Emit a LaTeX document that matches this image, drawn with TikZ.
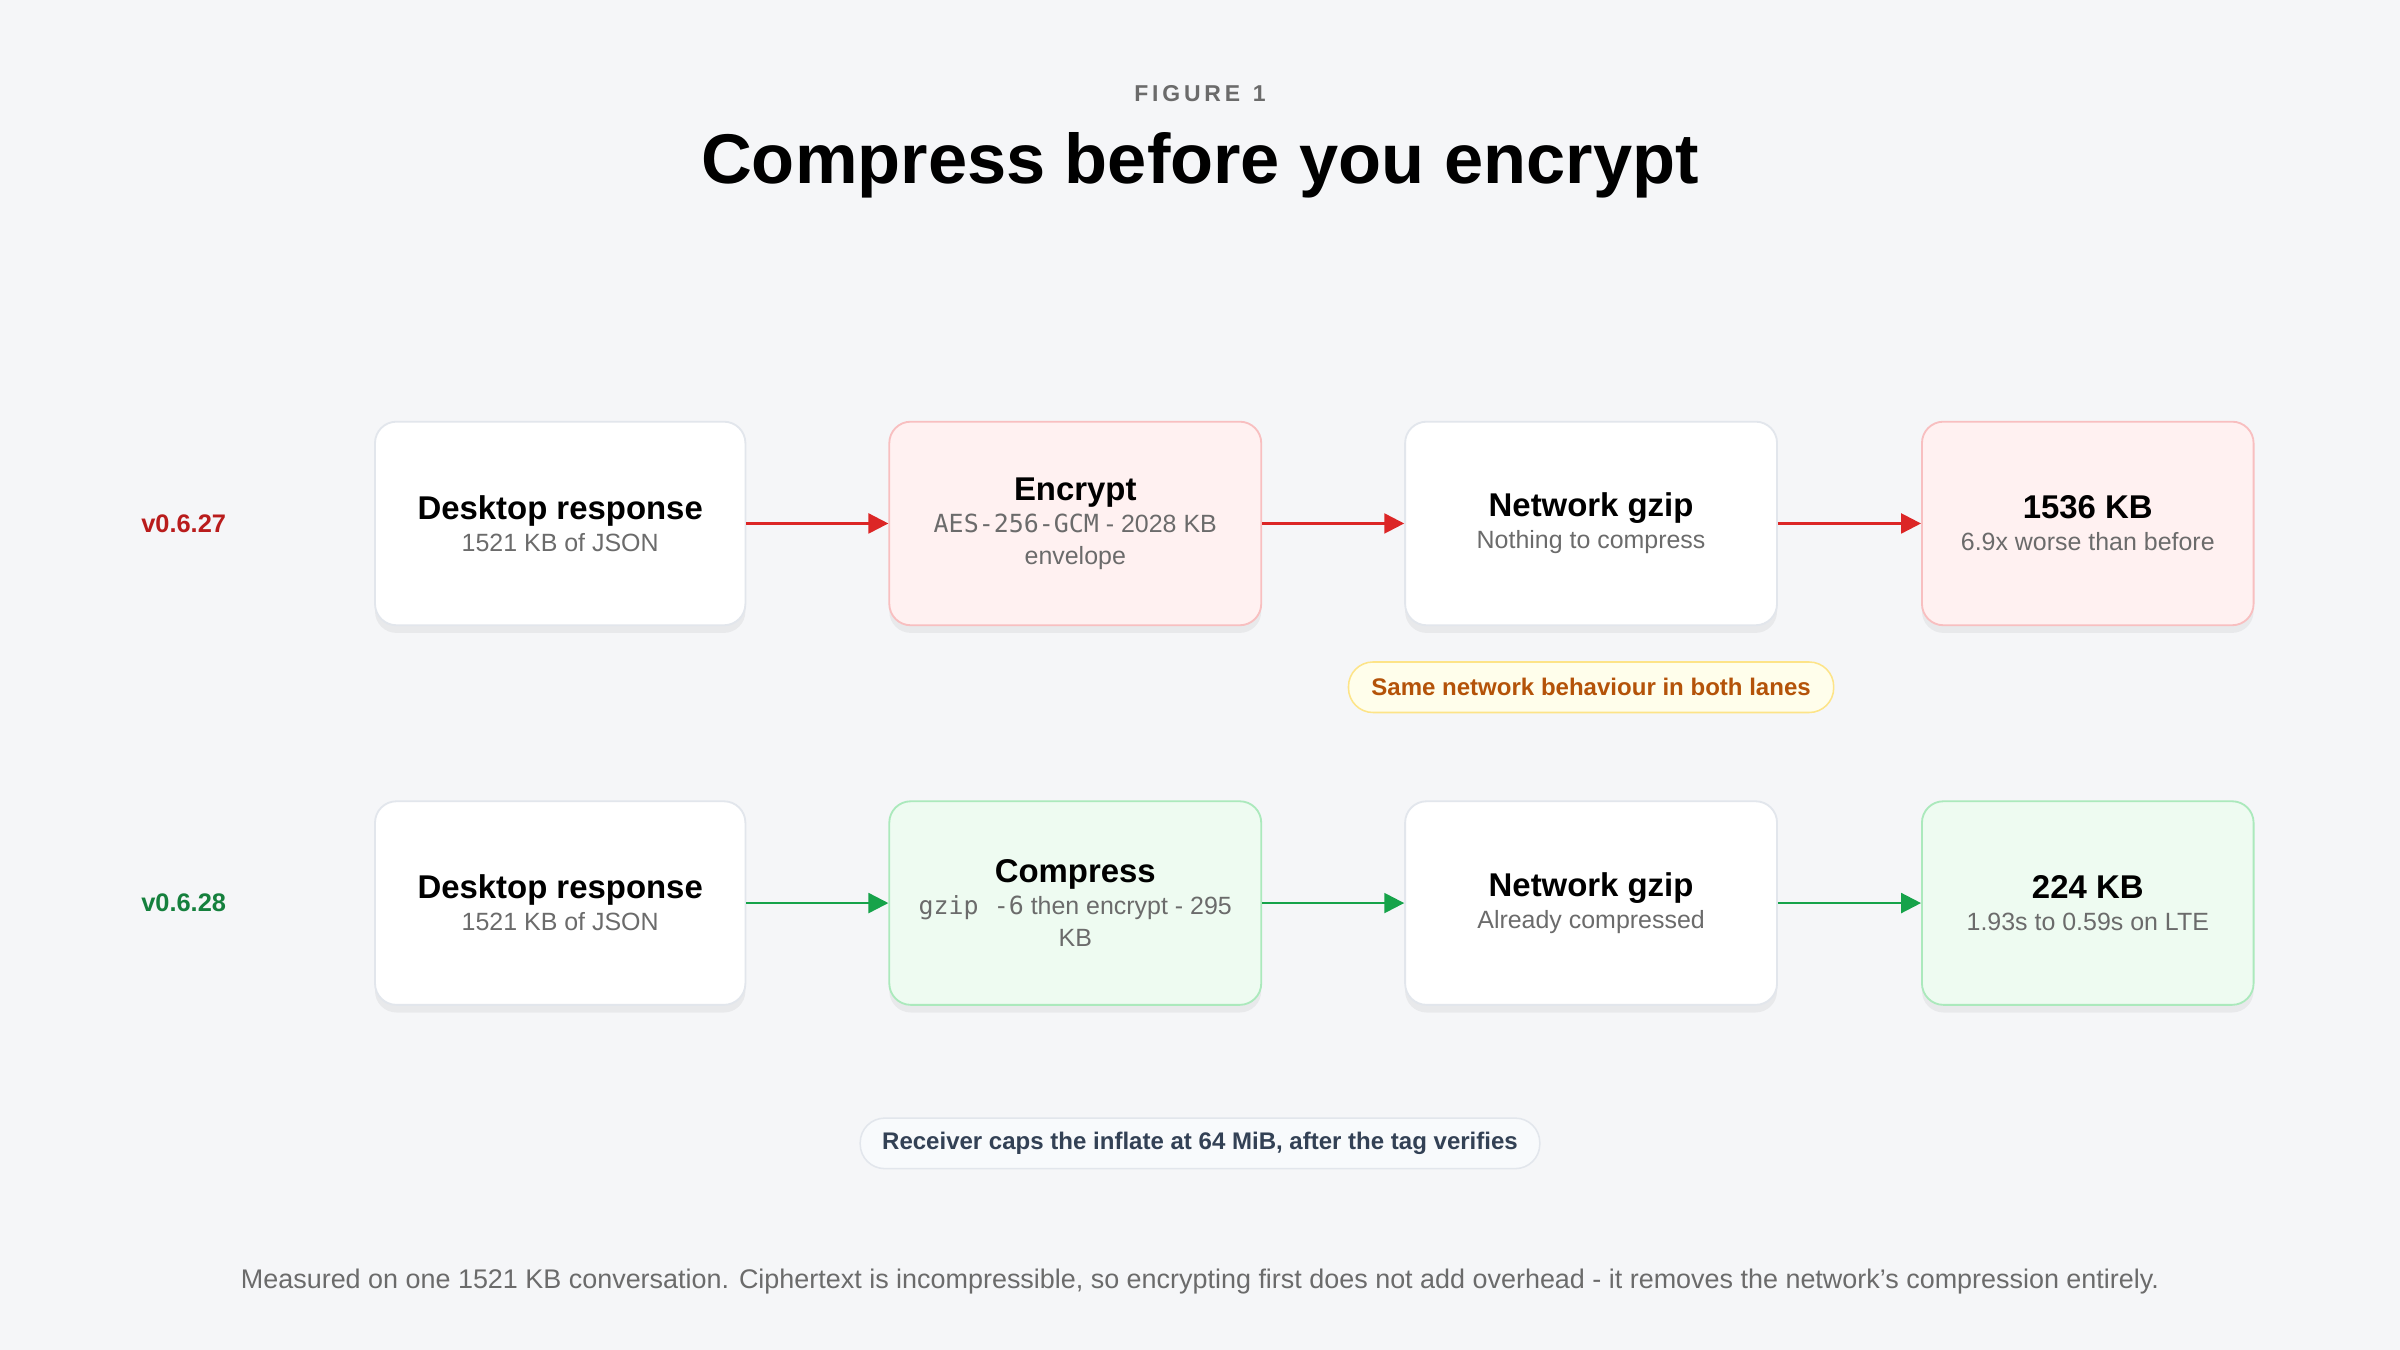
\documentclass[tikz,border=0pt]{standalone}
\usepackage{fontspec}
\setmainfont{Liberation Sans}
\setmonofont{DejaVu Sans Mono}
\usetikzlibrary{arrows.meta}
\definecolor{bg}{HTML}{F5F6F8}
\definecolor{rfill}{HTML}{FFF1F1}
\definecolor{rline}{HTML}{F8BFC0}
\definecolor{gfill}{HTML}{EEFBF1}
\definecolor{gline}{HTML}{ABE9BC}
\definecolor{wline}{HTML}{E2E6EC}
\definecolor{rarr}{HTML}{DC2626}
\definecolor{garr}{HTML}{16A34A}
\definecolor{rtxt}{HTML}{B91C1C}
\definecolor{gtxt}{HTML}{15803D}
\definecolor{sub}{HTML}{6B6B6B}
\newcommand\bxc[3]{\parbox{#1}{\centering{\fontsize{21.5}{30}\selectfont\bfseries #2\par}{\fontsize{16.3}{21}\selectfont\color{sub}#3\par}}}
\begin{document}
\begin{tikzpicture}[x=1pt,y=-1pt,
 box/.style={rounded corners=14pt,line width=1.2pt,minimum height=133pt,align=center,
   preaction={fill=black,fill opacity=0.05,draw=none,transform canvas={yshift=-5pt}}},
 wbox/.style={box,fill=white,draw=wline},
 rbox/.style={box,fill=rfill,draw=rline},
 gbox/.style={box,fill=gfill,draw=gline},
 ra/.style={draw=rarr,line width=1.6pt,-{Triangle[length=13pt,width=13pt]}},
 ga/.style={draw=garr,line width=1.6pt,-{Triangle[length=13pt,width=13pt]}}]
\fill[bg] (0,0) rectangle (1568,882);
\useasboundingbox (0,0) rectangle (1568,882);
\node (fig) at (784,61) {\fontsize{15}{18}\selectfont\bfseries\color{sub}F\,I\,G\,U\,R\,E\ \ 1};
\node (title) at (784,108) {\fontsize{46}{54}\selectfont\bfseries Compress before you encrypt};
\node[text=rtxt,font=\fontsize{16.6}{20}\selectfont\bfseries] (l1) at (120,342) {v0.6.27};
\node[text=gtxt,font=\fontsize{16.6}{20}\selectfont\bfseries] (l2) at (120,590) {v0.6.28};
% row 1
\node[wbox,minimum width=242pt] (a1) at (366,342) {\bxc{230pt}{Desktop response}{1521 KB of JSON}};
\node[rbox,minimum width=243pt] (b1) at (702.5,342) {\bxc{210pt}{Encrypt}{\texttt{AES-256-GCM} - 2028 KB envelope}};
\node[wbox,minimum width=243pt] (c1) at (1039.5,342) {\bxc{230pt}{Network gzip}{Nothing to compress}};
\node[rbox,minimum width=216pt] (d1) at (1364,342) {\bxc{210pt}{1536 KB}{6.9x worse than before}};
\draw[ra] (a1) -- (b1); \draw[ra] (b1) -- (c1); \draw[ra] (c1) -- (d1);
% row 2
\node[wbox,minimum width=242pt] (a2) at (366,590) {\bxc{230pt}{Desktop response}{1521 KB of JSON}};
\node[gbox,minimum width=243pt] (b2) at (702.5,590) {\bxc{210pt}{Compress}{\texttt{gzip -6} then encrypt - 295 KB}};
\node[wbox,minimum width=243pt] (c2) at (1039.5,590) {\bxc{230pt}{Network gzip}{Already compressed}};
\node[gbox,minimum width=216pt] (d2) at (1364,590) {\bxc{210pt}{224 KB}{1.93s to 0.59s on LTE}};
\draw[ga] (a2) -- (b2); \draw[ga] (b2) -- (c2); \draw[ga] (c2) -- (d2);
% badges
\node[rounded corners=16pt,fill=yellow!8,draw=yellow!60!orange!45,line width=1pt,minimum width=317pt,minimum height=33pt,text={rgb,255:red,180;green,83;blue,9},font=\fontsize{15.7}{18}\selectfont\bfseries] (n1) at (1039.5,449) {Same network behaviour in both lanes};
\node[rounded corners=16pt,fill={rgb,255:red,248;green,250;blue,252},draw=wline,line width=1pt,minimum width=444pt,minimum height=33pt,text={rgb,255:red,51;green,65;blue,85},font=\fontsize{15.7}{18}\selectfont\bfseries] (n2) at (784,747) {Receiver caps the inflate at 64 MiB, after the tag verifies};
\node[text=sub,font=\fontsize{17.6}{20}\selectfont] (foot) at (784,837) {Measured on one 1521 KB conversation. Ciphertext is incompressible, so encrypting first does not add overhead - it removes the network's compression entirely.};
\end{tikzpicture}
\end{document}
